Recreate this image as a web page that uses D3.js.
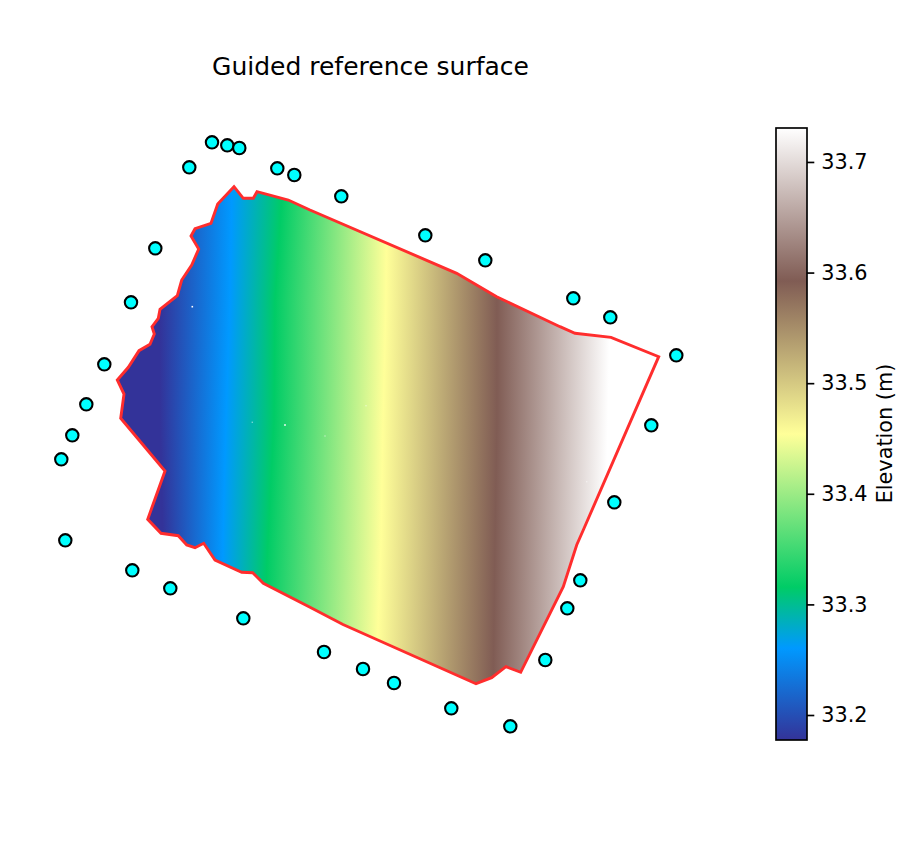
<!DOCTYPE html>
<html>
<head>
<meta charset="utf-8">
<title>Guided reference surface</title>
<script src="https://cdn.jsdelivr.net/npm/d3@7"></script>
<style>
  html, body { margin: 0; background: #fff; }
  text { font-family: "DejaVu Sans", sans-serif; fill: #000; }
</style>
</head>
<body>
<svg id="chart" width="900" height="850"></svg>
<script>
// everything is in easting / northing metres, the axes are hidden in the original
var boundary = [
  [194,613.3],[203.3,601.7],[213.3,601.7],[217,608.3],[248.3,600],[270,590],[416.7,526.7],[456.7,503.3],
  [520,473.3],[535,466.7],[571,462.7],[618.7,443.3],[543.3,270],[536.7,255],[523.3,213.3],[480.7,127.7],
  [466,133.3],[451.7,122.3],[436,116.3],[303,175.5],[270,192.7],[223.3,216.7],[212.7,227.3],[201.7,227.7],
  [175,240],[163.7,256.7],[155,252.3],[146.7,255],[138.3,264.3],[121,266.7],[107.7,280.7],[125,329],
  [80.7,381.7],[84,406],[77.3,420],[88.3,432.7],[99,449.3],[110,455.7],[114.3,466],[112,473.3],
  [118.3,481.7],[120,490.7],[137.3,504.3],[141.7,520],[151.7,535],[158.7,551],[151,564],[155,571.3],
  [171,576.7],[177.7,596]
];

var stationE = [172,187.3,199.3,149.3,237.3,254.3,115.3,91,64.3,46.3,32.3,21.3,25.3,92.3,130.3,203.3,
  301.3,385.3,445.3,533.3,570.3,636.3,611.3,574.3,540.3,527.3,505.3,411.3,470.3,284,323,354];
var stationN = [657.7,654.7,652,632.7,631.7,625,551.7,497.7,435.7,395.7,364.7,340.7,259.7,229.7,211.7,181.7,
  603.7,564.7,539.7,501.7,482.7,444.7,374.7,297.7,219.7,191.7,140,91.7,73.7,148,131,117];

// no-data specks in the surface
var gapsE = [245,152.3];
var gapsN = [375,493.3];
var faintGapsE = [212.3,285,326,546.7];
var faintGapsN = [377.7,364,394.3,318.3];

// where each colour knot of the surface sits, read at five northings
var rowNorthing = [620,500,380,260,110];
var lowEdge = [120,120,120,123,125];
var blueRidge = [192,190,186,183,182];
var greenRidge = [243,235,234,228,222];
var yellowRidge = [347,346,343,341,336];
var brownRidge = [458,457,457,455,453];
var whiteEdge = [570,570,568,565,562];

var elevMin = 33.1774, elevMax = 33.7307;
var colorbarTicks = [33.2,33.3,33.4,33.5,33.6,33.7];

// matplotlib terrain colormap knots
var terrainFrac = [0,0.15,0.25,0.5,0.75,1];
var terrainColors = ["#333399","#0099ff","#00cc66","#ffff99","#805c54","#ffffff"];

var svg = d3.select("#chart");
var defs = svg.append("defs");

var x = d3.scaleLinear().domain([0,700]).range([40,740]);
var y = d3.scaleLinear().domain([0,700]).range([800,100]);

var levels = terrainFrac.map(function(f){ return elevMin + f*(elevMax-elevMin); });
var terrain = d3.scaleLinear().domain(levels).range(terrainColors).interpolate(d3.interpolateRgb);

var ridges = [lowEdge,blueRidge,greenRidge,yellowRidge,brownRidge,whiteEdge];
var ridgeAt = ridges.map(function(r){
  return d3.scaleLinear().domain(rowNorthing).range(r);
});

var line = d3.line().x(function(d){ return x(d[0]); }).y(function(d){ return y(d[1]); });

defs.append("clipPath").attr("id","surfaceClip")
  .append("path").attr("d", line(boundary)+"Z");

// surface: one thin strip per row, each with its own gradient
var stripH = 2;
var stripTops = d3.range(180,690,stripH);
var grads = defs.selectAll("linearGradient.row").data(stripTops).enter().append("linearGradient")
  .attr("class","row")
  .attr("id",function(d,i){ return "row"+i; })
  .attr("gradientUnits","userSpaceOnUse")
  .attr("x1",x(0)).attr("x2",x(700)).attr("y1",0).attr("y2",0);
grads.each(function(top){
  var n = y.invert(top+stripH/2);
  d3.select(this).selectAll("stop").data(levels).enter().append("stop")
    .attr("offset",function(l,i){ return ridgeAt[i](n)/700; })
    .attr("stop-color",function(l){ return terrain(l); });
});

var surface = svg.append("g").attr("clip-path","url(#surfaceClip)");
surface.selectAll("rect").data(stripTops).enter().append("rect")
  .attr("x",x(0)).attr("width",x(700)-x(0))
  .attr("y",function(d){ return d; }).attr("height",stripH+0.5)
  .attr("fill",function(d,i){ return "url(#row"+i+")"; });

surface.selectAll("rect.gap").data(gapsE).enter().append("rect").attr("class","gap")
  .attr("x",function(d){ return x(d)-0.8; })
  .attr("y",function(d,i){ return y(gapsN[i])-0.8; })
  .attr("width",1.6).attr("height",1.6).attr("fill","#fff");
surface.selectAll("rect.faint").data(faintGapsE).enter().append("rect").attr("class","faint")
  .attr("x",function(d){ return x(d)-0.7; })
  .attr("y",function(d,i){ return y(faintGapsN[i])-0.7; })
  .attr("width",1.4).attr("height",1.4).attr("fill","#fff").attr("opacity",0.45);

svg.append("path").attr("d",line(boundary)+"Z")
  .attr("fill","none").attr("stroke","#ff2d2d").attr("stroke-width",2.9)
  .attr("stroke-linejoin","miter");

svg.selectAll("circle.station").data(stationE).enter().append("circle").attr("class","station")
  .attr("cx",function(d){ return x(d); })
  .attr("cy",function(d,i){ return y(stationN[i]); })
  .attr("r",6.2)
  .attr("fill","#00ffff").attr("stroke","#000").attr("stroke-width",2.1);

svg.append("text").attr("x",370.5).attr("y",74.5).attr("text-anchor","middle")
  .style("font-size","25px").text("Guided reference surface");

// colorbar
var barL = 776, barR = 807, barTop = 128, barBottom = 740;
var barScale = d3.scaleLinear().domain([elevMin,elevMax]).range([barBottom,barTop]);

var barGrad = defs.append("linearGradient").attr("id","barGrad")
  .attr("x1",0).attr("x2",0).attr("y1",1).attr("y2",0);
barGrad.selectAll("stop").data(levels).enter().append("stop")
  .attr("offset",function(l,i){ return terrainFrac[i]; })
  .attr("stop-color",function(l){ return terrain(l); });

svg.append("rect").attr("x",barL).attr("y",barTop).attr("width",barR-barL).attr("height",barBottom-barTop)
  .attr("fill","url(#barGrad)").attr("stroke","#000").attr("stroke-width",1.67);

var axis = d3.axisRight(barScale).tickValues(colorbarTicks).tickFormat(d3.format(".1f")).tickSize(7.3).tickPadding(7);
var axisG = svg.append("g").attr("transform","translate("+barR+",0)").call(axis);
axisG.select(".domain").remove();
axisG.selectAll("line").attr("stroke","#000").attr("stroke-width",1.67);
axisG.selectAll("text").style("font-size","20.8px").style("font-family","'DejaVu Sans'").attr("fill","#000");

svg.append("text")
  .attr("transform","translate(892,433.5) rotate(-90)")
  .attr("text-anchor","middle")
  .style("font-size","20.8px").text("Elevation (m)");
</script>
</body>
</html>
